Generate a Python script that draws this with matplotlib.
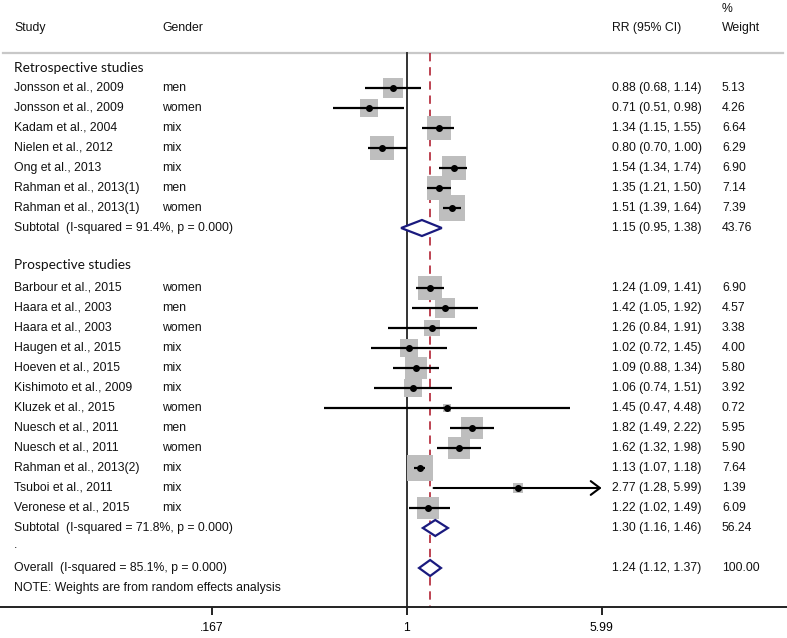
# Forest plot: relative risk by study, retrospective vs prospective
import numpy as np
import matplotlib
matplotlib.use("Agg")
import matplotlib.pyplot as plt
from matplotlib.transforms import blended_transform_factory

# -----------------------------
#  Data
# -----------------------------
retro_study = ["Jonsson et al., 2009", "Jonsson et al., 2009", "Kadam et al., 2004",
               "Nielen et al., 2012", "Ong et al., 2013", "Rahman et al., 2013(1)",
               "Rahman et al., 2013(1)"]
retro_gender = ["men", "women", "mix", "mix", "mix", "men", "women"]
retro_rr = [0.88, 0.71, 1.34, 0.80, 1.54, 1.35, 1.51]
retro_lo = [0.68, 0.51, 1.15, 0.70, 1.34, 1.21, 1.39]
retro_hi = [1.14, 0.98, 1.55, 1.00, 1.74, 1.50, 1.64]
retro_w = ["5.13", "4.26", "6.64", "6.29", "6.90", "7.14", "7.39"]

pro_study = ["Barbour et al., 2015", "Haara et al., 2003", "Haara et al., 2003",
             "Haugen et al., 2015", "Hoeven et al., 2015", "Kishimoto et al., 2009",
             "Kluzek et al., 2015", "Nuesch et al., 2011", "Nuesch et al., 2011",
             "Rahman et al., 2013(2)", "Tsuboi et al., 2011", "Veronese et al., 2015"]
pro_gender = ["women", "men", "women", "mix", "mix", "mix", "women", "men", "women",
              "mix", "mix", "mix"]
pro_rr = [1.24, 1.42, 1.26, 1.02, 1.09, 1.06, 1.45, 1.82, 1.62, 1.13, 2.77, 1.22]
pro_lo = [1.09, 1.05, 0.84, 0.72, 0.88, 0.74, 0.47, 1.49, 1.32, 1.07, 1.28, 1.02]
pro_hi = [1.41, 1.92, 1.91, 1.45, 1.34, 1.51, 4.48, 2.22, 1.98, 1.18, 5.99, 1.49]
pro_w = ["6.90", "4.57", "3.38", "4.00", "5.80", "3.92", "0.72", "5.95", "5.90",
         "7.64", "1.39", "6.09"]

# pooled estimates: label, rr, lo, hi, weight
sub_retro = ("Subtotal  (I-squared = 91.4%, p = 0.000)", 1.15, 0.95, 1.38, "43.76")
sub_pro = ("Subtotal  (I-squared = 71.8%, p = 0.000)", 1.30, 1.16, 1.46, "56.24")
overall = ("Overall  (I-squared = 85.1%, p = 0.000)", 1.24, 1.12, 1.37, "100.00")

xticks = [0.167, 1, 5.99]
xticklabels = [".167", "1", "5.99"]

# -----------------------------
#  Layout helpers (pixel space, dpi 100)
# -----------------------------
W, H = 787, 638
X_ONE = 406.7          # pixel of RR = 1
PX_PER_LN = 108.9      # pixels per unit of ln(RR)
ROW0, ROW_H = 88, 20.0
AXIS_Y = 607
TOP_Y = 53

def row_y(i):
    return ROW0 + ROW_H * i

FONT = "Liberation Sans"
FS = 8.8
GRAY_BOX = "#BEBEBE"
NAVY = "#1A1A7E"
RED = "#B22234"

fig = plt.figure(figsize=(W / 100, H / 100), dpi=100)
ax = fig.add_axes([0, 0, 1, 1])
ax.set_xscale("log")
ax.set_xlim(np.exp(-X_ONE / PX_PER_LN), np.exp((W - X_ONE) / PX_PER_LN))
ax.set_ylim(H, 0)
ax.patch.set_alpha(0)

tr = blended_transform_factory(fig.transFigure, ax.transData)

def txt(x_px, y, s, **kw):
    kw.setdefault("family", FONT)
    kw.setdefault("fontsize", FS)
    ax.text(x_px / W, y, s, transform=tr, va="center", ha="left", color="#111111", **kw)

# header
txt(14, 28, "Study")
txt(162, 28, "Gender")
txt(612, 28, "RR (95% CI)")
txt(722, 9, "%")
txt(722, 28, "Weight")
ax.plot([3 / W, 783 / W], [TOP_Y, TOP_Y], transform=tr, color="#C8C8C8", lw=1.6)

# reference lines
ax.plot([1, 1], [TOP_Y, AXIS_Y], color="#333333", lw=1.4, zorder=2)
ax.plot([overall[1]] * 2, [TOP_Y, AXIS_Y], color=RED, lw=1.2, ls=(0, (5, 3.5)), zorder=2)

BOX_K = 9.2 * 0.72  # points per sqrt(weight)

def study_row(i, name, gender, rr, lo, hi, w):
    y = row_y(i)
    txt(14, y, name)
    txt(162, y, gender)
    txt(612, y, f"{rr:.2f} ({lo:.2f}, {hi:.2f})")
    txt(722, y, w)
    side = BOX_K * np.sqrt(float(w))
    ax.scatter([rr], [y], marker="s", s=side ** 2, color=GRAY_BOX, lw=0, zorder=3)
    if hi >= xticks[-1]:
        ax.annotate("", xy=(hi, y), xytext=(lo, y), zorder=4,
                    arrowprops=dict(arrowstyle="->,head_length=0.6,head_width=0.45",
                                    lw=1.5, color="black", mutation_scale=11,
                                    shrinkA=0, shrinkB=0))
    else:
        ax.plot([lo, hi], [y, y], color="black", lw=1.6, zorder=4, solid_capstyle="butt")
    ax.plot([rr], [y], "o", color="black", ms=4.0, zorder=5)

def pooled_row(i, pooled):
    label, rr, lo, hi, w = pooled
    y = row_y(i)
    txt(14, y, label)
    txt(612, y, f"{rr:.2f} ({lo:.2f}, {hi:.2f})")
    txt(722, y, w)
    h = 8.0
    ax.fill([lo, rr, hi, rr, lo], [y, y - h, y, y + h, y], facecolor="white",
            edgecolor=NAVY, lw=1.6, zorder=6)

# retrospective block
txt(14, row_y(-1), "Retrospective studies", family="Lato", fontsize=9.8)
for k in range(len(retro_study)):
    study_row(k, retro_study[k], retro_gender[k], retro_rr[k], retro_lo[k],
              retro_hi[k], retro_w[k])
pooled_row(len(retro_study), sub_retro)

# prospective block
start = len(retro_study) + 3
txt(14, row_y(start - 1) - 3, "Prospective studies", family="Lato", fontsize=9.8)
for k in range(len(pro_study)):
    study_row(start + k, pro_study[k], pro_gender[k], pro_rr[k], pro_lo[k],
              pro_hi[k], pro_w[k])
end = start + len(pro_study)
pooled_row(end, sub_pro)
txt(14, row_y(end + 1) - 3, ".")
pooled_row(end + 2, overall)
txt(14, row_y(end + 3), "NOTE: Weights are from random effects analysis")

# x axis
for s in ["top", "left", "right"]:
    ax.spines[s].set_visible(False)
ax.spines["bottom"].set_position(("data", AXIS_Y))
ax.spines["bottom"].set_color("#222222")
ax.spines["bottom"].set_linewidth(1.4)
ax.set_xticks(xticks)
ax.set_xticklabels(xticklabels, family=FONT, fontsize=FS)
ax.xaxis.set_minor_locator(matplotlib.ticker.NullLocator())
ax.tick_params(axis="x", direction="out", length=6, width=1.4, pad=5, color="#222222")
ax.set_yticks([])

fig.savefig("out.png", dpi=100)
